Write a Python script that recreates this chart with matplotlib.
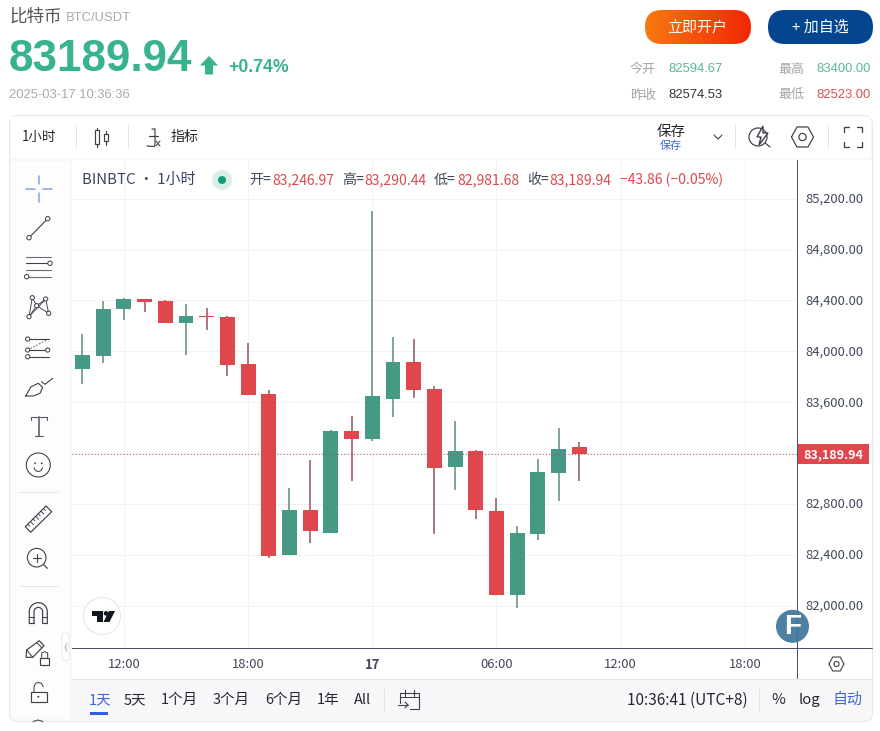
import numpy as np
import matplotlib
matplotlib.use("Agg")
import matplotlib.pyplot as plt
from matplotlib.patches import FancyBboxPatch, Circle, Rectangle, Polygon
from matplotlib.transforms import ScaledTranslation

# ---------- data ----------
hours = list(range(25))
opens = [83864, 83966, 84335, 84411, 84395, 84225, 84274, 84270, 83901, 83665, 82403, 82754, 82576,
         83374, 83314, 83628, 83916, 83704, 83094, 83217, 82746, 82089, 82568, 83047, 83246.97]
closes = [83971, 84333, 84411, 84390, 84225, 84278, 84270, 83895, 83660, 82395, 82754, 82591, 83374,
          83314, 83649, 83916, 83696, 83086, 83217, 82756, 82089, 82573, 83052, 83233, 83189.94]
highs = [84136, 84395, 84417, 84415, 84406, 84372, 84340, 84278, 84066, 83696, 82927, 83147, 83382,
         83492, 85102, 84113, 84097, 83728, 83453, 83225, 82848, 82628, 83155, 83398, 83290.44]
lows = [83746, 83911, 84246, 84311, 84222, 83971, 84168, 83809, 83660, 82379, 82403, 82497, 82576,
        82984, 83298, 83487, 83636, 82568, 82913, 82686, 82089, 81987, 82521, 82827, 82981.68]
last_price = 83189.94
price_ticks = [82000, 82400, 82800, 83200, 83600, 84000, 84400, 84800, 85200]
hidden_price_label = 83200  # covered by the last-price tag in the reference
time_tick_pos = [2, 8, 14, 20, 26, 32]
time_tick_labels = ["12:00", "18:00", "17", "06:00", "12:00", "18:00"]

# ---------- style ----------
CJK = ["Noto Sans CJK SC", "DejaVu Sans"]
ARIAL = ["Liberation Sans", "Noto Sans CJK SC"]
UP, DOWN = "#459985", "#E0474C"
UP_W, DOWN_W = "#5a8a72", "#8f5058"
GRID = "#f1f2f4"
AXC = "#4a5468"
TXT = "#3f4759"
ICON = "#3c4048"
BLUE = "#3f66d8"
HEAD = "#38b28f"
px = 0.72  # pixels -> points at dpi 100

plt.rcParams["font.family"] = CJK
fig = plt.figure(figsize=(8.8, 7.31), dpi=100, facecolor="white")
W, H = 880, 731


def pix_axes(z):
    a = fig.add_axes([0, 0, 1, 1], zorder=z)
    a.set_xlim(0, W)
    a.set_ylim(H, 0)
    a.axis("off")
    a.patch.set_alpha(0)
    return a


bg = pix_axes(0)
top = pix_axes(5)


def T(a, x, y, s, size, color=TXT, ha="left", va="center", family=CJK, weight="normal"):
    return a.text(x, y, s, fontsize=size * px, color=color, ha=ha, va=va, family=family, weight=weight)


def L(xs, ys, lw=1.2, c=ICON, a=None, z=2, **k):
    (a or top).plot(xs, ys, color=c, lw=lw * px, solid_capstyle="round", zorder=z, **k)


def C(x, y, r, lw=1.2, ec=ICON, fc="white", a=None, z=3):
    (a or top).add_patch(Circle((x, y), r, fc=fc, ec=ec, lw=lw * px, zorder=z))


# ---------- header ----------
T(bg, 9, 17, "比特币", 17.5, "#555555")
T(bg, 66, 18, "BTC/USDT", 13, "#a9a9b0", family=ARIAL)
T(bg, 9, 59.5, "83189.94", 44, HEAD, family=ARIAL, weight="bold")
bg.add_patch(Polygon([(209, 56), (218, 65.5), (213, 65.5), (213, 74.5), (205, 74.5), (205, 65.5), (200, 65.5)], fc=HEAD, ec="none"))
T(bg, 228, 67, "+0.74%", 17.6, HEAD, family=ARIAL, weight="bold")
T(bg, 9, 95, "2025-03-17 10:36:36", 13, "#a9a9ad", family=ARIAL)

btn = FancyBboxPatch((645, 10), 106, 34, boxstyle="round,pad=0,rounding_size=17", fc="none", ec="none")
bg.add_patch(btn)
grad = np.linspace(0, 1, 200)[None, :, None]
rgb = (1 - grad) * np.array([[[0.97, 0.48, 0.07]]]) + grad * np.array([[[0.95, 0.15, 0.02]]])
im = bg.imshow(rgb, extent=(645, 751, 44, 10), aspect="auto", zorder=1)
im.set_clip_path(btn)
bg.set_xlim(0, W)
bg.set_ylim(H, 0)
bg.add_patch(FancyBboxPatch((768, 10), 105, 34, boxstyle="round,pad=0,rounding_size=17", fc="#03468f", ec="none"))
T(bg, 697, 28, "立即开户", 15, "white", ha="center").set_zorder(3)
T(bg, 820, 28, "+ 加自选", 15, "white", ha="center").set_zorder(3)

stats = [(630, 668.5, 69, "今开", "82594.67", "#57b899"), (778.5, 816.5, 69, "最高", "83400.00", "#57b899"),
         (630, 668.5, 95, "昨收", "82574.53", "#33363d"), (778.5, 816.5, 95, "最低", "82523.00", "#d9534f")]
for x1, x2, y, a_, b_, c_ in stats:
    T(bg, x1, y, a_, 13, "#a5a5aa")
    T(bg, x2, y, b_, 13, c_, family=ARIAL)

# ---------- panel ----------
bg.add_patch(FancyBboxPatch((9.5, 115.5), 863, 606, boxstyle="round,pad=0,rounding_size=9", fc="#f8f8fa", ec="#e8e9ec", lw=0.8, zorder=0.5))
bg.add_patch(Rectangle((11, 117), 860, 41, fc="white", ec="none", zorder=0.6))
bg.add_patch(Rectangle((11, 162), 59, 557, fc="#fdfdfe", ec="none", zorder=0.6))
bg.add_patch(Rectangle((72, 160), 800, 519, fc="white", ec="none", zorder=0.6))

# ---------- chart ----------
x0, x1, y0, y1 = 72, 797, 160, 648
ax = fig.add_axes([x0 / W, 1 - y1 / H, (x1 - x0) / W, (y1 - y0) / H], zorder=2)
ax.set_facecolor("white")
ax.set_xlim(-0.507, 34.52)
ax.set_ylim(81670, 85503)
hours_a = np.array(hours)
o, c_, h_, l_ = map(np.array, (opens, closes, highs, lows))
up = c_ >= o
ax.vlines(hours_a, l_, h_, colors=[UP_W if u else DOWN_W for u in up], lw=1.5 * px, zorder=3)
ax.bar(hours_a, np.maximum(np.abs(c_ - o), 7), bottom=np.minimum(o, c_), width=0.72,
       color=[UP if u else DOWN for u in up], linewidth=0, zorder=4)
ax.axhline(last_price, color="#a5525a", lw=1 * px, ls=(0, (1, 2.2)), zorder=5)
ax.set_yticks(price_ticks, ["" if v == hidden_price_label else f"{v:,.2f}" for v in price_ticks])
ax.yaxis.tick_right()
ax.set_xticks(time_tick_pos, time_tick_labels)
ax.grid(True, color=GRID, lw=1 * px, zorder=0)
ax.set_axisbelow(True)
ax.tick_params(axis="y", length=0, pad=6.2, labelsize=13 * px, labelcolor=TXT)
ax.tick_params(axis="x", length=0, pad=7.2, labelsize=13 * px, labelcolor=TXT)
ax.get_xticklabels()[2].set_fontweight("bold")
shift = ScaledTranslation(0, 1 / 100, fig.dpi_scale_trans)
for lab in ax.get_yticklabels():
    lab.set_transform(lab.get_transform() + shift)
for s in ("top", "left"):
    ax.spines[s].set_visible(False)
for s in ("right", "bottom"):
    ax.spines[s].set_color(AXC)
    ax.spines[s].set_linewidth(1 * px)
L([797, 797], [648, 678], 1, AXC)
L([797, 872], [648, 648], 1, AXC)
L([72, 872], [679, 679], 1, "#e6e7ea")
ax.add_patch(Rectangle((1 + 1 / 725, last_price - 78), 71 / 725, 157, transform=ax.get_yaxis_transform(),
                       fc=DOWN, ec="none", clip_on=False, zorder=6))
ax.text(1 + 36.5 / 725, last_price, f"{last_price:,.2f}", transform=ax.get_yaxis_transform(), ha="center", va="center",
        color="white", fontsize=12.6 * px, weight="bold", clip_on=False, zorder=7)

# legend row
T(top, 82, 180, "BINBTC · 1小时", 15, "#3a4460")
C(222, 180, 10, 0, "none", "#d9efe9")
C(222, 180, 4, 0, "none", "#0f9d7a", z=4)
for x, s, col in [(249, "开=", TXT), (272, "83,246.97", DOWN), (342, "高=", TXT), (364, "83,290.44", DOWN),
                  (434, "低=", TXT), (457, "82,981.68", DOWN), (527, "收=", TXT), (549, "83,189.94", DOWN),
                  (620, "−43.86 (−0.05%)", DOWN)]:
    T(top, x, 180, s, 14, col)

# TV logo and F badge
C(102, 616, 18.5, 1, "#e3e5ea", "white")
top.add_patch(Polygon([(92, 611), (103, 611), (103, 622), (97, 622), (97, 615.5), (92, 615.5)], fc="#131722", ec="none", zorder=4))
C(106, 613.4, 2.3, 0, "none", "#131722", z=4)
top.add_patch(Polygon([(109, 611), (115, 611), (109.5, 622), (103.5, 622)], fc="#131722", ec="none", zorder=4))
top.add_patch(Circle((792.5, 626.3), 16.5, fc="#3f769c", ec="none", alpha=0.93, zorder=3))
T(top, 792.5, 627.5, "F", 28, "white", ha="center", family=ARIAL, weight="bold").set_zorder(4)

# ---------- top toolbar ----------
T(top, 22, 137, "1小时", 13.5, "#26282e")
T(top, 171, 137, "指标", 14, "#26282e")
T(top, 671, 132, "保存", 14.5, "#26282e", ha="center")
T(top, 671, 146, "保存", 11, BLUE, ha="center")
for x in (75.5, 127.5, 734.5, 827.5):
    L([x, x], [125, 148], 1, "#e2e3e6")
# candle icon
for cx, yb, yt, a_, b_ in [(97, 128, 147, 130, 144), (106, 131, 145, 134, 141)]:
    L([cx, cx], [yb, yt], 1.2)
    top.add_patch(Rectangle((cx - 2.3, a_), 4.6, b_ - a_, fc="white", ec=ICON, lw=1.2 * px, zorder=3))
# fx
L([152, 155, 155, 154, 147], [129, 129, 145, 146.5, 146], 1.2)
L([149, 158], [136, 136], 1.2)
L([156, 160], [141, 146], 1)
L([160, 156], [141, 146], 1)
L([714, 718, 722], [135, 139, 135], 1.1)
# search flash
C(758, 137, 9, 1.2)
top.add_patch(Polygon([(763, 126), (757, 137), (761, 137), (759, 145), (768, 133), (763, 133)], fc="white", ec=ICON, lw=1, zorder=4))
L([764, 770], [142, 147], 1.2)


def hexagon(cx, cy, rx, ry, lw=1.2):
    xs = [cx - rx, cx - rx / 2, cx + rx / 2, cx + rx, cx + rx / 2, cx - rx / 2, cx - rx]
    ys = [cy, cy - ry, cy - ry, cy, cy + ry, cy + ry, cy]
    L(xs, ys, lw)
    C(cx, cy, ry * 0.36, lw)


hexagon(802.5, 137, 11, 10)
hexagon(836.5, 664, 7.5, 7, 1.1)
for xs, ys in [([844, 844, 849], [132, 127, 127]), ([857, 862, 862], [127, 127, 132]),
               ([844, 844, 849], [142, 147, 147]), ([857, 862, 862], [147, 147, 142])]:
    L(xs, ys, 1.3)

# ---------- left toolbar ----------
CR = "#8aa4ee"
L([39, 39], [176, 184], 1.6, CR); L([39, 39], [193, 202], 1.6, CR)
L([26, 35], [189, 189], 1.6, CR); L([43, 52], [189, 189], 1.6, CR)
# trend line
L([29, 47.7], [237.7, 218.7], 1.1); C(29, 237.7, 2.2, 1); C(47.7, 218.7, 2.2, 1)
# fib
L([26, 50.7], [256.7, 256.7], 1.1, "#666a72"); L([26, 50], [263.3, 263.3], 1.1); L([26, 50.7], [270, 270], 1.1, "#666a72"); L([26.7, 50.7], [276.7, 276.7], 1.1, "#666a72")
C(50, 263.3, 2.2, 1); C(26.7, 276.7, 2.2, 1)
# pattern
pp = {"a": (29, 316.7), "b": (32.3, 297.7), "c": (36.7, 305.7), "d": (45.7, 299), "e": (48.7, 313.3)}
for u, v in ["ab", "bc", "ce", "ed", "dc", "ca", "ad"]:
    L([pp[u][0], pp[v][0]], [pp[u][1], pp[v][1]], 0.9)
for p in pp.values():
    C(p[0], p[1], 2.1, 1)
# forecast
L([27.7, 49], [339, 339], 1.1); L([27.7, 47.7], [350, 350], 1.1); L([27.7, 49], [356.7, 356.7], 1.1)
L([27.7, 46.7], [350, 340], 0.8, ls=(0, (2, 2)))
for p in [(27.7, 339), (27.7, 350), (47.7, 350), (27.7, 356.7)]:
    C(p[0], p[1], 2.1, 1)
# brush
L([25.7, 31, 38.3, 42.7, 40, 33.3, 25.7], [396, 386.7, 383.3, 387.3, 393.3, 396, 396], 1.1)
L([41.7, 45, 52.7], [381.7, 384.3, 378.3], 1.1)
# T
L([30.7, 30.7, 47.3, 47.3], [419.5, 417.3, 417.3, 419.5], 1.1, "#555a62")
L([39, 39], [417.3, 436], 1.8, "#6a6e76")
L([35, 43.3], [436, 436], 1.1, "#555a62")
# smile
C(38.3, 465, 12, 1.1)
C(35, 463.3, 0.9, 0, "none", ICON, z=4); C(41.7, 463.3, 0.9, 0, "none", ICON, z=4)
L([34, 35.5, 38.3, 41, 42.7], [467.7, 470.5, 471.7, 470.5, 467.7], 1, z=4)
L([19.3, 57.7], [492.3, 492.3], 1, "#e6e7ea")
# ruler
top.add_patch(Polygon([(25.3, 526.7), (46, 506), (51.7, 511.7), (30.7, 532.3)], fc="white", ec=ICON, lw=0.85, zorder=3))
for k, a_ in enumerate(np.linspace(0.12, 0.88, 7)):
    xa, ya = 25.3 + 20.7 * a_, 526.7 - 20.7 * a_
    d = 3 if k % 2 else 2
    L([xa, xa + d], [ya, ya + d], 0.9, z=4)
# zoom
C(36.7, 557.7, 9.3, 1.1)
L([32.7, 40.7], [557.7, 557.7], 1.1, z=4); L([36.7, 36.7], [553.7, 561.7], 1.1, z=4); L([43.3, 47.3], [564.3, 568.3], 1.2)
L([19.3, 57.7], [586, 586], 1, "#e6e7ea")
# magnet
th = np.linspace(np.pi, 0, 30)
L(np.r_[29.3, 38.3 + 9 * np.cos(th), 47.3], np.r_[623.3, 611.7 - 9 * np.sin(th), 623.3], 1.2)
L(np.r_[34, 38.3 + 4.3 * np.cos(th), 42.6], np.r_[623.3, 611.7 - 4.3 * np.sin(th), 623.3], 1.2)
L([29.3, 34], [623.3, 623.3], 1.2); L([42.6, 47.3], [623.3, 623.3], 1.2)
L([29.3, 34], [616.7, 616.7], 1.1); L([42.6, 47.3], [616.7, 616.7], 1.1)
# pencil + small lock
top.add_patch(Polygon([(26, 657.3), (26.7, 650), (39.3, 640.7), (44, 645.7), (32.7, 657.3)], fc="white", ec=ICON, lw=0.85, zorder=3))
L([26.7, 32.7], [650, 657.3], 1, z=4); L([37, 42], [643, 648], 1, z=4)
top.add_patch(Rectangle((40, 657.7), 9.3, 7, fc="white", ec=ICON, lw=0.85, zorder=4))
L([41.7, 41.7, 44.7, 47.7, 47.7], [657.7, 653, 651.7, 653, 657.7], 1, z=4)
# open lock
top.add_patch(Rectangle((30.7, 691.7), 16, 10.6, fc="white", ec=ICON, lw=0.85, zorder=3))
L([34, 34, 35.5, 38.3, 41.5, 43.3], [691.7, 686.7, 683.5, 682.3, 683.5, 686.7], 1)
C(38.3, 696.7, 1, 0, "none", ICON, z=4)
L([33, 38, 43], [721.5, 720, 721.5], 1)
top.add_patch(FancyBboxPatch((62, 633), 7.3, 27.5, boxstyle="round,pad=0,rounding_size=3", fc="white", ec="#e6e7ea", lw=0.7, zorder=3))
L([67, 65, 67], [643, 647, 651], 0.9, "#a8aab0", z=4)

# ---------- bottom bar ----------
for x, s, col in [(89, "1天", BLUE), (124, "5天", "#26282e"), (161, "1个月", "#26282e"), (213, "3个月", "#26282e"),
                  (265, "6个月", "#26282e"), (317, "1年", "#26282e"), (354, "All", "#26282e")]:
    T(top, x, 700, s, 14.5, col)
T(top, 627, 700, "10:36:41 (UTC+8)", 15.4, "#26282e")
top.add_patch(Rectangle((90, 712), 18, 3, fc="#2f5fe0", ec="none"))
L([383.5, 383.5], [689, 712], 1, "#e2e3e6")
L([758.5, 758.5], [689, 712], 1, "#e2e3e6")
L([400, 400, 419, 419, 410], [703, 693, 693, 709, 709], 1.1)
L([405, 405], [690, 696], 1.1); L([414, 414], [690, 696], 1.1); L([400, 419], [697, 697], 1.0)
L([398, 408], [705, 705], 1.1); L([405, 408, 405], [702, 705, 708], 1.1)
T(top, 778, 700, "%", 15, "#26282e", ha="center")
T(top, 809, 700, "log", 15, "#26282e", ha="center")
T(top, 848, 700, "自动", 15, BLUE, ha="center")

top.set_xlim(0, W)
top.set_ylim(H, 0)
fig.savefig("out.png", dpi=100)
